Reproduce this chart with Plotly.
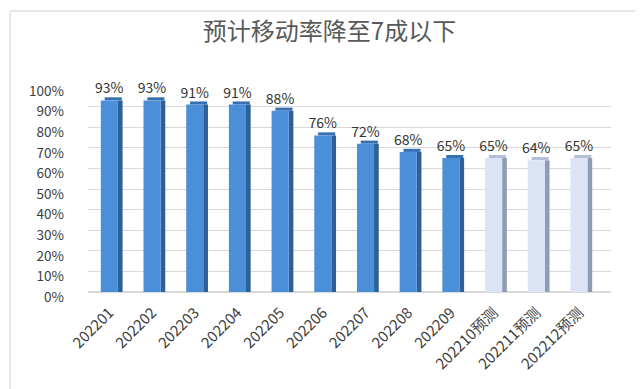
import plotly.graph_objects as go

categories = ["202201", "202202", "202203", "202204", "202205", "202206",
              "202207", "202208", "202209", "202210预测", "202211预测", "202212预测"]
values = [0.93, 0.93, 0.91, 0.91, 0.88, 0.76, 0.72, 0.68, 0.65, 0.65, 0.64, 0.65]
labels = ["93%", "93%", "91%", "91%", "88%", "76%", "72%", "68%", "65%", "65%", "64%", "65%"]
is_forecast = [False] * 9 + [True] * 3

front_colors = ["#dbe3f4" if f else "#4a8fd8" for f in is_forecast]
side_colors = ["#8e9cb5" if f else "#2d5f99" for f in is_forecast]
top_colors = ["#b3bfd6" if f else "#3570b3" for f in is_forecast]

FONT = "Noto Sans CJK SC, Noto Sans, sans-serif"

L, R, T, B = 80, 40, 78, 105
PW, PH = 643 - L - R, 389 - T - B

fig = go.Figure()
# side face
fig.add_trace(go.Bar(
    x=categories, y=values, width=0.11, offset=0.2,
    marker=dict(color=side_colors, line=dict(width=0)),
    hoverinfo="skip", showlegend=False,
))
# top face (thin strip)
fig.add_trace(go.Bar(
    x=categories, y=[0.015] * len(values), base=values, width=0.4, offset=-0.11,
    marker=dict(color=top_colors, line=dict(width=0)),
    hoverinfo="skip", showlegend=False,
))
# front face
fig.add_trace(go.Bar(
    x=categories, y=values, width=0.4, offset=-0.2,
    marker=dict(color=front_colors, line=dict(width=0)),
    text=labels, textposition="outside", cliponaxis=False, constraintext="none",
    textfont=dict(family=FONT, size=14, color="#333333"),
    showlegend=False,
))

fig.update_layout(
    width=643, height=389,
    barmode="overlay",
    paper_bgcolor="#ffffff",
    plot_bgcolor="#ffffff",
    margin=dict(l=L, r=R, t=T, b=B, autoexpand=False),
    title=dict(
        text="预计移动率降至7成以下",
        x=0.5, xanchor="center", y=0.94, yanchor="middle",
        font=dict(family=FONT, size=24, color="#595959"),
    ),
    font=dict(family=FONT, color="#404040"),
)
fig.update_yaxes(
    range=[0, 1.0], dtick=0.1, tickformat=".0%",
    showgrid=True, gridcolor="#d9d9d9", gridwidth=1,
    zeroline=True, zerolinecolor="#d9d9d9",
    tickfont=dict(family=FONT, size=13.5, color="#404040"),
    ticklabelstandoff=23, ticklabelshift=5,
)
fig.update_xaxes(
    range=[-0.5, 11.75],
    tickangle=-45, tickfont=dict(family=FONT, size=15, color="#404040"),
    showgrid=False, showline=False, ticks="", ticklabelstandoff=8,
)
fig.add_shape(type="rect", xref="paper", yref="paper",
              x0=(2 - L) / PW, x1=(640 - L) / PW,
              y0=(389 - B - 386) / PH, y1=(389 - B - 3) / PH,
              line=dict(color="#d0d0d0", width=1))

fig.write_html("out.html")
